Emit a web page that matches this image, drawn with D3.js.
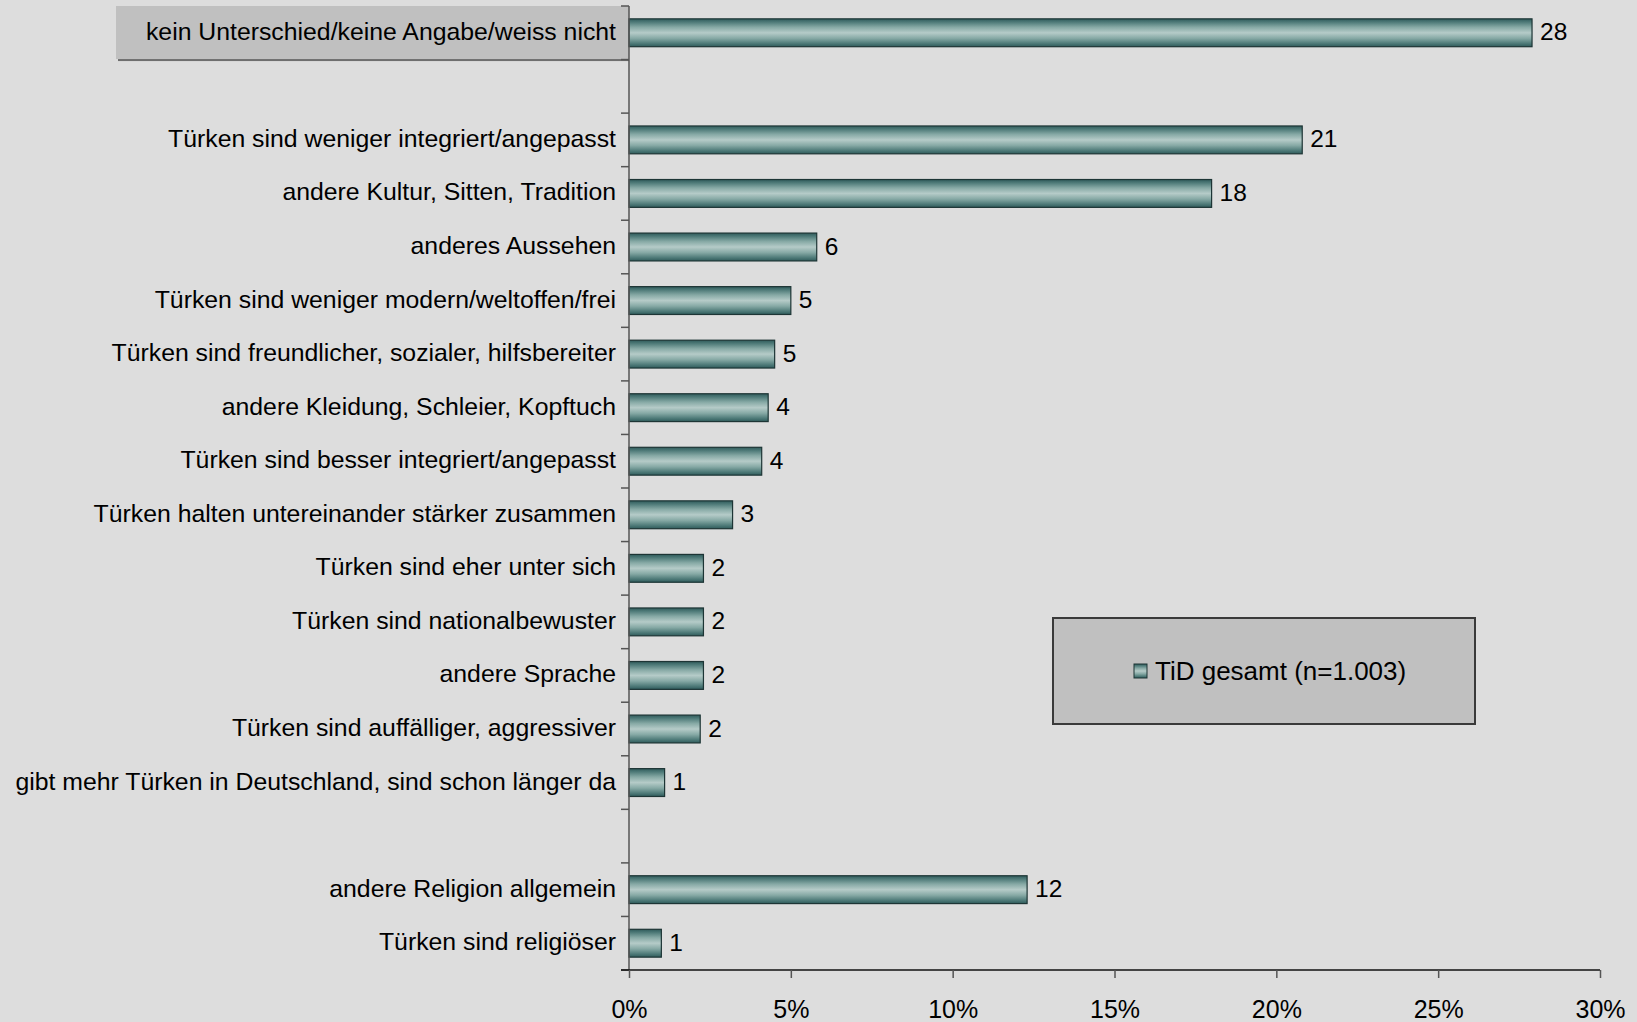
<!DOCTYPE html>
<html>
<head>
<meta charset="utf-8">
<script src="https://cdn.jsdelivr.net/npm/d3@7"></script>
<style>
  html, body { margin: 0; padding: 0; background: #dddddd; }
  svg { display: block; }
  text { font-family: "Liberation Sans", Arial, sans-serif; fill: #000; }
</style>
</head>
<body>
<svg id="chart" width="1637" height="1022"></svg>
<script>
// ---- data ----
const categories = [
  "kein Unterschied/keine Angabe/weiss nicht",
  "",
  "Türken sind weniger integriert/angepasst",
  "andere Kultur, Sitten, Tradition",
  "anderes Aussehen",
  "Türken sind weniger modern/weltoffen/frei",
  "Türken sind freundlicher, sozialer, hilfsbereiter",
  "andere Kleidung, Schleier, Kopftuch",
  "Türken sind besser integriert/angepasst",
  "Türken halten untereinander stärker zusammen",
  "Türken sind eher unter sich",
  "Türken sind nationalbewuster",
  "andere Sprache",
  "Türken sind auffälliger, aggressiver",
  "gibt mehr Türken in Deutschland, sind schon länger da",
  "",
  "andere Religion allgemein",
  "Türken sind religiöser"
];
const values = [27.9, null, 20.8, 18.0, 5.8, 5.0, 4.5, 4.3, 4.1, 3.2, 2.3, 2.3, 2.3, 2.2, 1.1, null, 12.3, 1.0];
const valueLabels = ["28", "", "21", "18", "6", "5", "5", "4", "4", "3", "2", "2", "2", "2", "1", "", "12", "1"];
const xTicks = [0, 5, 10, 15, 20, 25, 30];
const seriesName = "TiD gesamt (n=1.003)";

// ---- layout ----
const svg = d3.select("#chart");
const plotLeft = 629, plotRight = 1600, plotTop = 6, plotBottom = 970;

const x = d3.scaleLinear().domain([0, 30]).range([plotLeft, plotRight]);
const y = d3.scaleBand().domain(d3.range(categories.length)).range([plotTop, plotBottom]).paddingInner(0.48).paddingOuter(0.24);
const yb = d3.scaleBand().domain(d3.range(categories.length)).range([plotTop, plotBottom]);

// gradient
const defs = svg.append("defs");
const grad = defs.append("linearGradient").attr("id", "barGrad").attr("x1", 0).attr("y1", 0).attr("x2", 0).attr("y2", 1);
[[0, "#2f5b5b"], [0.12, "#4f7b79"], [0.3, "#86a9a5"], [0.5, "#b5cbc8"], [0.7, "#86a9a5"], [0.88, "#4f7b79"], [1, "#2f5b5b"]]
  .forEach(([o, c]) => grad.append("stop").attr("offset", o).attr("stop-color", c));

// highlighted top label box
const b0 = yb(0);
svg.append("rect").attr("x", 118).attr("y", b0 + 2).attr("width", plotLeft - 118).attr("height", yb.bandwidth() - 0.5)
  .attr("fill", "#6e6e6e");
svg.append("rect").attr("x", 116).attr("y", b0).attr("width", plotLeft - 116).attr("height", yb.bandwidth() - 0.5)
  .attr("fill", "#c0c0c0");

// bars
const rows = categories.map((c, i) => ({ c, v: values[i], lab: valueLabels[i], i }));
svg.append("g").selectAll("rect").data(rows.filter(d => d.v != null)).join("rect")
  .attr("x", x(0)).attr("y", d => y(d.i))
  .attr("width", d => x(d.v) - x(0)).attr("height", y.bandwidth())
  .attr("fill", "url(#barGrad)").attr("stroke", "#1d3535").attr("stroke-width", 1.2);

// value labels
svg.append("g").selectAll("text").data(rows.filter(d => d.v != null)).join("text")
  .attr("x", d => x(d.v) + 8).attr("y", d => y(d.i) + y.bandwidth() / 2 - 1)
  .attr("dominant-baseline", "central").attr("font-size", 24.5).text(d => d.lab);

// category labels
svg.append("g").selectAll("text").data(rows.filter(d => d.c)).join("text")
  .attr("x", 616).attr("y", d => yb(d.i) + yb.bandwidth() / 2 - 1.5)
  .attr("text-anchor", "end").attr("dominant-baseline", "central").attr("font-size", 24.8).text(d => d.c);

// y axis line + ticks at band boundaries
const yAxis = svg.append("g").attr("stroke", "#555").attr("stroke-width", 1.5);
yAxis.append("line").attr("x1", plotLeft).attr("x2", plotLeft).attr("y1", plotTop).attr("y2", plotBottom);
yAxis.selectAll("line.t").data(d3.range(categories.length + 1)).join("line").attr("class", "t")
  .attr("x1", plotLeft - 8).attr("x2", plotLeft)
  .attr("y1", i => i < categories.length ? yb(i) : plotBottom)
  .attr("y2", i => i < categories.length ? yb(i) : plotBottom);

// x axis
const xAxis = d3.axisBottom(x).tickValues(xTicks).tickFormat(d => d + "%").tickSize(8).tickSizeOuter(0).tickPadding(22);
const gx = svg.append("g").attr("transform", `translate(0,${plotBottom})`).call(xAxis);
gx.select(".domain").attr("stroke", "#111").attr("stroke-width", 1.5).attr("d", `M${plotLeft - 8},0H${plotRight}`);
gx.selectAll(".tick line").attr("stroke", "#555").attr("stroke-width", 1.5);
gx.selectAll(".tick text").attr("font-size", 25).attr("font-family", "Liberation Sans, Arial, sans-serif").attr("fill", "#000");

// legend
const lg = svg.append("g");
lg.append("rect").attr("x", 1053).attr("y", 618).attr("width", 422).attr("height", 106)
  .attr("fill", "#c0c0c0").attr("stroke", "#3a3a3a").attr("stroke-width", 2);
lg.append("rect").attr("x", 1134).attr("y", 664).attr("width", 13).attr("height", 14)
  .attr("fill", "url(#barGrad)").attr("stroke", "#1d3535").attr("stroke-width", 1);
lg.append("text").attr("x", 1155).attr("y", 671).attr("dominant-baseline", "central")
  .attr("font-size", 26).text(seriesName);
</script>
</body>
</html>
